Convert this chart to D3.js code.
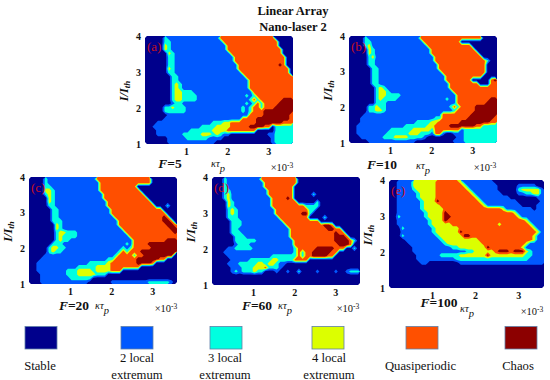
<!DOCTYPE html>
<html>
<head>
<meta charset="utf-8">
<script src="https://cdn.jsdelivr.net/npm/d3@7"></script>
<style>
  html, body { margin: 0; padding: 0; background: #fff; }
  svg { display: block; }
  text { font-family: "Liberation Serif", "Times New Roman", serif; fill: #111; }
</style>
</head>
<body>
<div id="wrapper"></div>
<script>
// state, top row first: 0 stable .. 5 chaos
const stateColors = ["#00008c", "#0058ff", "#00ffe0", "#dcff00", "#ff5000", "#8c0000"]
const stateNames = [["Stable"], ["2 local", "extremum"], ["3 local", "extremum"], ["4 local", "extremum"], ["Quasiperiodic"], ["Chaos"]]
const panelNames = ["(a)", "(b)", "(c)", "(d)", "(e)"]
const forceLabels = ["=5", "=10", "=20", "=60", "=100"]
const xTicks = [1, 2, 3]
const yTicks = [1, 2, 3, 4]

const gridA = [
  "0000021111111111111144444444444444400000",
  "0000022111111111111114444444444444440000",
  "0000032111111111111111444444444444440000",
  "0000032111111111111111444444444444444000",
  "0000003211111111111111144444444444444000",
  "0000002211111111111111114444444444444400",
  "0000002211111111111111114444444444444400",
  "0000002211111111111111111444444444445400",
  "0000003211111111111111111444444444444440",
  "0000002211111111111111111144444444444440",
  "0000000221111111111111111114444444444444",
  "0000000221111111111111111111444444444444",
  "0000000232111111111111111111444444444444",
  "0000000232111111111111111111444444444444",
  "0000000233222111111111111111144444444444",
  "0000000233222211111111111112124444444444",
  "0000000233222211111111111111242444444555",
  "0000000122111111111111111112124244445555",
  "0000022322211111111111111121244244455555",
  "0000022222211111111111111121244455555555",
  "0000001111111111111111111111444455555554",
  "0000011111111111111111111144445555555554",
  "0001111111111111112223344444445555555444",
  "0011111111111112222333344444555544022222",
  "0001111111112222223333444444440000022222",
  "0001111111222223332321100000000001122222",
  "0000001111122222211110000000000000122222",
  "0000001111111111111000000000000000122222"
]

const gridB = [
  "0000211111111111111444444444444444440000",
  "0000221111111111111144444444440000000000",
  "0000231111111111111114444444444440000000",
  "0000032111111111111111444444444444000000",
  "0000032111111111111111444444444444400000",
  "0000023111111111111111144444444444440000",
  "0000022111111111111111144444444444444200",
  "0000022111111111111111114444444444444000",
  "0000002211111111111111114444444444444000",
  "0000002211111111111111111444444444444000",
  "0000002211111111111111111144444444440000",
  "0000002211111111111111111144444440000045",
  "0000002211111111111111111114444444400044",
  "0000000232111111111111111114444444444444",
  "0000000233211111111111111111444444444444",
  "0000000233222211111111111111144444444444",
  "0000000232222111111111111121144444444455",
  "0000000222111111111111111111144444444555",
  "0000022322111111111111111112424444555555",
  "0000022332111111111111111111244444555555",
  "0000111111111111111111111444444445555555",
  "0001111111111111111111122444444455555554",
  "0001111111111111112222334444445555555544",
  "0011111111111112222223344445555555442222",
  "0011111111122222233333244444441222222222",
  "0011111111222222333222144100111222222222",
  "0001111112223333222210000000011222222222",
  "0000011111111111110000000000111222222222"
]

const gridC = [
  "0000211111111111114444444444444440000000",
  "0000211111111111111444444444444440000000",
  "0000221111111111111444444444400000000000",
  "0000332111111111111444444444440000000000",
  "0000232111111111111144444444444000000000",
  "0000032111111111111144444444444400000000",
  "0000032111111111111114444444444440000000",
  "0000022111111111111114444444444444000200",
  "0000002211111111111111444444444444440000",
  "0000002211111111111111444444444444444000",
  "0000002211111111111111144444444444445400",
  "0000002221111111111111114444444444445540",
  "0000000321111111111111114444444444444554",
  "0000000321111111111111111444444444444455",
  "0000000233222111111111111144444444444445",
  "0000000232222111111111111114444444444444",
  "0000000232211111111111111111444444444555",
  "0000002221111111111111111121444455555555",
  "0000023322111111111111111212444445555555",
  "0000023221111111111111112424445555555555",
  "0000111111111111111111124444244555555550",
  "0001111111111111111112244444455555544000",
  "0011111111111111222223444444455554000000",
  "0011111111111222223333444444440000000000",
  "0011111111222333323333444000000000000000",
  "0001111111222333332220000000000000000000",
  "0001111111122222200000000000000000000000",
  "0001111111111111000000111111111122222210"
]

const gridD = [
  "0002111111111444444444400000000000000000",
  "0002111111111144444444400000000000000000",
  "0002111111111144444444000000000000000000",
  "0002211111111114444444000000000000000000",
  "0002311111111114444444000002000000000000",
  "0002311111111111444454000000000000000000",
  "0000321111111111444444400000200000000000",
  "0000321111111111444444444222200000000000",
  "0000232111111111144444444422000000000000",
  "0000232111111111144444445520000000000000",
  "0000222111111111114444444400002000000000",
  "0000022211111111111444444444400000000000",
  "0000022211111111111144444444445540000000",
  "0000022111111111111114444444444554400000",
  "0000022211111111111114444444444445440000",
  "0000002221111111111114444444444445554000",
  "0000002222221111111111444444444445555420",
  "0000001222111111111111444444444444555400",
  "0000112222211111111111244444555554440020",
  "0001111111111111111111242445555544000000",
  "0000111111111111222222242445555440000000",
  "0000011111222222332222444400000000000000",
  "0000111222223323321100000000000000000000",
  "0000011122233342221000000000000000000000",
  "0000012122232200010010020000100001001222",
  "0000000000000000000000000000000000000000",
  "0000000000000000000000000000000000000000",
  "0000000000000000000000000000000000000000"
]

const gridE = [
  "0011113333334444443111111110000000000000",
  "0011113333334444444311111111000001111100",
  "0011112333334444444431111111000002333331",
  "0011111233334444444443111111100001122331",
  "0011111233334444444444311111111000000011",
  "0011111123335444444444431111111110000001",
  "0011111123333444444444443111111111000011",
  "0011111123333344444444444444431111111011",
  "0011111112333354444444444444444431111111",
  "0021111112333355444444444444444443111111",
  "0011111111233354444444444444444444431111",
  "0011111111233333444444444444344444443111",
  "0002111111123333334444444444444444444311",
  "0001111111123333335444444444444444444431",
  "0002111111112333333554444444444444444311",
  "0000111111111233333333344444444444444311",
  "0000011111111123333333334444444444431111",
  "0000001111111111223333333544444444311111",
  "0000001111111111111122333334555455532111",
  "0000000111111222223333333533333333322111",
  "0000000111111111122222222222222222221111",
  "0000000011000000001111111111111111111111",
  "0000000000000000000000000000000000000000",
  "0000000000000000000000000000000000000000",
  "0000000000000000000000000000000000000000",
  "0000000000000000000000000000000000000000",
  "0000000000000000000000000000000000000000",
  "0000000000000000000000000000000000000000"
]

const grids = [gridA, gridB, gridC, gridD, gridE]

const width = 550
const height = 380
const panelBoxes = [
  { x: 145, y: 36, w: 148, h: 108, label: [170, 168], kappa: [218, 167], power: [282, 171] },
  { x: 349, y: 36, w: 148, h: 107, label: [382, 169], kappa: [423, 169], power: [485, 171] },
  { x: 29, y: 177, w: 148, h: 107, label: [74, 310], kappa: [102, 309], power: [166, 312] },
  { x: 212, y: 177, w: 148, h: 108, label: [257, 310], kappa: [285, 309], power: [348, 312] },
  { x: 389, y: 180, w: 155, h: 108, label: [439, 307], kappa: [467, 312], power: [532, 315] }
]
const legendCenters = [41, 137, 226, 328, 422, 521]
const legendTextCenters = [40, 137, 225, 329, 420.5, 518]

const cols = 40
const rows = 28
const xDomain = [0, 3.6]
const yDomain = [1, 4]

const svg = d3.select("#wrapper")
  .append("svg")
    .attr("width", width)
    .attr("height", height)

// soft edge, the reference is a compressed bitmap
svg.append("filter").attr("id", "soft")
    .attr("x", "0").attr("y", "0").attr("width", "1").attr("height", "1")
  .append("feGaussianBlur").attr("stdDeviation", 0.45)

svg.append("text")
    .attr("x", 293).attr("y", 15)
    .attr("text-anchor", "middle")
    .style("font-size", "12.5px").style("font-weight", "bold")
    .text("Linear Array")
svg.append("text")
    .attr("x", 293).attr("y", 31)
    .attr("text-anchor", "middle")
    .style("font-size", "12.5px").style("font-weight", "bold")
    .text("Nano-laser 2")

const contours = d3.contours()
  .size([cols, rows])
  .thresholds(d3.range(-0.5, 5, 1))

grids.forEach((grid, i) => {
  const box = panelBoxes[i]
  const values = grid.flatMap(row => Array.from(row.padEnd(cols, row[row.length - 1]).slice(0, cols), Number))

  const x = d3.scaleLinear().domain(xDomain).range([0, box.w])
  const y = d3.scaleLinear().domain(yDomain).range([box.h, 0])
  const colX = d3.scaleLinear().domain([0, cols]).range(xDomain)
  const rowY = d3.scaleLinear().domain([0, rows]).range([yDomain[1], yDomain[0]])

  const path = d3.geoPath(d3.geoTransform({
    point(px, py) { this.stream.point(x(colX(px)), y(rowY(py))) }
  }))

  const bound = svg.append("g").attr("transform", `translate(${box.x},${box.y})`)

  bound.append("g").attr("filter", "url(#soft)")
    .selectAll("path")
    .data(contours(values))
    .join("path")
      .attr("d", path)
      .attr("fill", d => stateColors[Math.ceil(d.value)])

  bound.append("text")
      .attr("x", 2).attr("y", 15)
      .style("font-size", "13px")
      .style("fill", "#c8101c")
      .text(panelNames[i])

  const xAxis = bound.append("g")
      .attr("transform", `translate(0,${box.h})`)
      .call(d3.axisBottom(x).tickValues(xTicks).tickSize(0).tickPadding(4).tickFormat(d3.format("d")))
  const yAxis = bound.append("g")
      .call(d3.axisLeft(y).tickValues(yTicks).tickSize(0).tickPadding(4).tickFormat(d3.format("d")))
  for (const axis of [xAxis, yAxis]) {
    axis.select(".domain").remove()
    axis.selectAll("text")
        .style("font-family", '"Liberation Serif", serif')
        .style("font-size", "10px")
        .style("font-weight", "bold")
        .style("fill", "#111")
  }

  // y axis title
  const yTitle = svg.append("text")
      .attr("transform", `translate(${box.x - 17},${box.y + box.h / 2 + 1}) rotate(-90)`)
      .attr("text-anchor", "middle")
      .style("font-size", "12.5px").style("font-weight", "bold").style("font-style", "italic")
  yTitle.append("tspan").text("I/I")
  yTitle.append("tspan").attr("dy", 2).style("font-size", "9px").text("th")

  // F=n under the panel
  const fLabel = svg.append("text")
      .attr("x", box.label[0]).attr("y", box.label[1])
      .attr("text-anchor", "middle")
      .style("font-size", "13.5px").style("font-weight", "bold")
  fLabel.append("tspan").style("font-style", "italic").text("F")
  fLabel.append("tspan").text(forceLabels[i])

  // kappa tau_p
  const kappa = svg.append("text")
      .attr("x", box.kappa[0]).attr("y", box.kappa[1])
      .attr("text-anchor", "middle")
      .style("font-size", "10.5px").style("font-style", "italic")
  kappa.append("tspan").text("κτ")
  kappa.append("tspan").attr("dy", 5).text("p")

  // x 10^-3
  const power = svg.append("text")
      .attr("x", box.power[0]).attr("y", box.power[1])
      .attr("text-anchor", "middle")
      .style("font-size", "10.5px")
  power.append("tspan").text("×10")
  power.append("tspan").attr("dy", -3).style("font-size", "7.5px").text("-3")
})

// legend
const legend = svg.append("g")
  .selectAll("g")
  .data(stateNames)
  .join("g")

legend.append("rect")
    .attr("x", (d, i) => legendCenters[i] - 16)
    .attr("y", 326.5)
    .attr("width", 32)
    .attr("height", 22.5)
    .attr("fill", (d, i) => stateColors[i])
    .attr("stroke", "#5f7fa8")
    .attr("stroke-width", 0.8)

legend.each(function(lines, k) {
  const single = lines.length === 1
  d3.select(this).selectAll("text")
    .data(lines)
    .join("text")
      .attr("text-anchor", "middle")
      .attr("x", legendTextCenters[k])
      .attr("y", (d, i) => single ? 370 : 362 + i * 16.5)
      .style("font-size", "12.7px")
      .text(d => d)
})
</script>
</body>
</html>
